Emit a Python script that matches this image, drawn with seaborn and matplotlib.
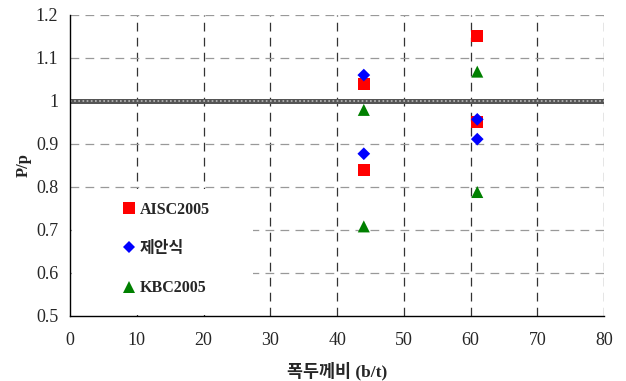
import numpy as np
import pandas as pd
import matplotlib
matplotlib.use("Agg")
import matplotlib.pyplot as plt
from matplotlib.patches import Rectangle
import seaborn as sns

# data
series_names = ["AISC2005", "제안식", "KBC2005"]
bt_values = [44, 44, 61, 61]
aisc_vals = [1.04, 0.84, 1.15, 0.95]
proposed_vals = [1.06, 0.877, 0.957, 0.911]
kbc_vals = [0.979, 0.708, 1.068, 0.788]

x_ticks = [0, 10, 20, 30, 40, 50, 60, 70, 80]
y_ticks = [0.5, 0.6, 0.7, 0.8, 0.9, 1.0, 1.1, 1.2]
y_tick_labels = ["0.5", "0.6", "0.7", "0.8", "0.9", "1", "1.1", "1.2"]

df = pd.DataFrame({
    "bt": bt_values * 3,
    "ratio": aisc_vals + proposed_vals + kbc_vals,
    "series": [s for s in series_names for _ in bt_values],
})

sns.set_style("white")
plt.rcParams['font.family'] = ['Liberation Serif', 'Noto Sans CJK KR']

fig = plt.figure(figsize=(6.26, 3.81), dpi=100)
ax = fig.add_axes([0.112, 0.171, 0.853, 0.79])

# grid
for xv in x_ticks[1:]:
    ax.axvline(xv, color="#333333", lw=0.9, ls=(0, (7, 5)), zorder=0)
for yv in y_ticks[1:]:
    if yv != 1.0:
        ax.axhline(yv, color="#999999", lw=0.9, ls=(0, (7, 5)), zorder=0)

# reference line at P/p = 1
ax.axhline(1.0, color="#555555", lw=3.6, zorder=1)
ax.axhline(1.0, color="#bbbbbb", lw=1.2, ls=(0, (1, 1.5)), zorder=1)

# white box behind the legend (hides the grid there)
ax.add_patch(Rectangle((0.003, 0.004), 0.339, 0.416, transform=ax.transAxes,
                       facecolor="white", edgecolor="none", zorder=1.5))

sns.scatterplot(
    data=df, x="bt", y="ratio", hue="series", style="series", size="series",
    hue_order=series_names, style_order=series_names,
    palette=["#ff0000", "#0000ff", "#008000"],
    markers=["s", "D", "^"], sizes={"AISC2005": 75, "제안식": 42, "KBC2005": 75},
    linewidth=0, ax=ax, zorder=3,
)

ax.set_xlim(0, 80)
ax.set_ylim(0.5, 1.2)
ax.set_xticks(x_ticks)
ax.set_yticks(y_ticks)
ax.set_yticklabels(y_tick_labels)
ax.tick_params(axis="both", direction="inout", length=7, width=0.9,
               labelsize=13, color="black")
ax.tick_params(axis="x", pad=8)
ax.tick_params(axis="y", pad=5)

for side in ["top", "right"]:
    ax.spines[side].set_visible(False)
for side in ["left", "bottom"]:
    ax.spines[side].set_color("black")
    ax.spines[side].set_linewidth(1.0)

ax.set_xlabel("폭두께비 (b/t)", fontsize=12.5, fontweight="bold", labelpad=9)
ax.set_ylabel("P/p", fontsize=12, fontweight="bold", labelpad=3)

leg = ax.legend(loc="center left", bbox_to_anchor=(0.089, 0.222),
                frameon=False, borderpad=0.0,
                labelspacing=1.45, handletextpad=0.0, markerscale=1.0,
                prop={"size": 11.5, "weight": "bold"}, handlelength=1.4,
                borderaxespad=0.0)
leg.set_zorder(4)

fig.savefig("out.png", dpi=100)
